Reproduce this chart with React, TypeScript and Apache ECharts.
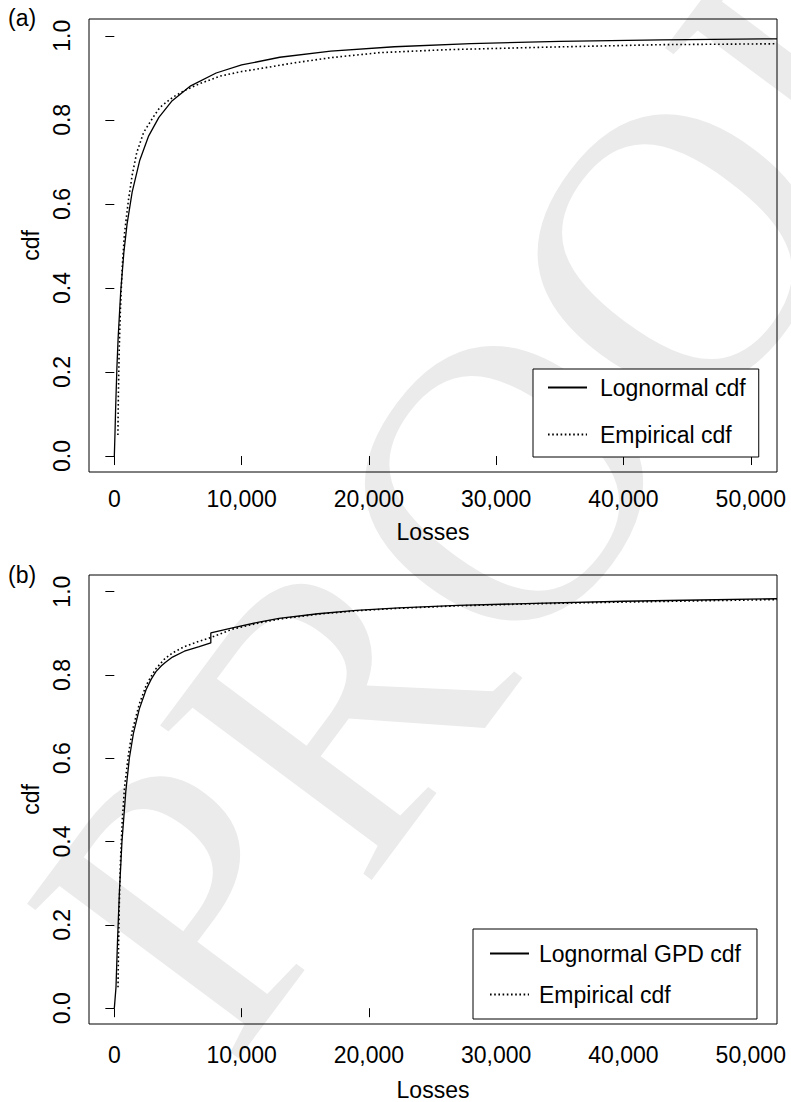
import React, { useEffect, useRef } from "react";
import * as echarts from "echarts";

const FONT = '"Liberation Sans", Arial, Helvetica, sans-serif';

const xTicks = [0, 10000, 20000, 30000, 40000, 50000];
const yTicks = [0, 0.2, 0.4, 0.6, 0.8, 1.0];

// Panel (a)
const lognormalA: [number, number][] = [
  [0, 0], [50, 0.052], [100, 0.111], [200, 0.208], [300, 0.282], [500, 0.391],
  [750, 0.485], [1000, 0.552], [1400, 0.628], [2000, 0.704], [2700, 0.762],
  [3500, 0.806], [4500, 0.844], [6000, 0.881], [8000, 0.9115], [10000, 0.9306],
  [13000, 0.949], [17000, 0.9634], [22000, 0.974], [28000, 0.9814],
  [35000, 0.9866], [43000, 0.9903], [52060, 0.9928],
];
const empiricalA: [number, number][] = [
  [280, 0.05], [320, 0.15], [380, 0.25], [480, 0.35], [620, 0.45], [800, 0.53],
  [1100, 0.607], [1400, 0.668], [1760, 0.722], [2300, 0.77], [3065, 0.807],
  [3590, 0.83], [4600, 0.854], [5600, 0.871], [6700, 0.886], [8300, 0.904],
  [10000, 0.915], [11450, 0.922], [14000, 0.935], [17000, 0.948], [20870, 0.96],
  [26110, 0.967], [33970, 0.973], [43130, 0.979], [51900, 0.981],
];

// Panel (b)
const lognormalGpdB: [number, number][] = [
  [0, 0], [130, 0.05], [260, 0.17], [400, 0.28], [600, 0.4], [900, 0.52],
  [1180, 0.6], [1500, 0.66], [1960, 0.718], [2500, 0.765], [2900, 0.79],
  [3270, 0.808], [3700, 0.822], [4000, 0.83], [4570, 0.843], [5500, 0.857],
  [6670, 0.868], [7580, 0.877], [7580, 0.901], [9280, 0.913], [11370, 0.927],
  [12940, 0.936], [16000, 0.947], [19000, 0.955], [22350, 0.961], [27000, 0.967],
  [33000, 0.972], [40000, 0.977], [46000, 0.98], [52060, 0.983],
];
const empiricalB: [number, number][] = [
  [290, 0.05], [330, 0.15], [390, 0.25], [480, 0.35], [620, 0.45], [800, 0.53],
  [1100, 0.607], [1400, 0.665], [1960, 0.73], [2500, 0.775], [2900, 0.797],
  [3270, 0.815], [3700, 0.83], [4000, 0.84], [4570, 0.853], [5500, 0.868],
  [6670, 0.881], [7580, 0.89], [9280, 0.91], [11370, 0.925], [12940, 0.934],
  [16000, 0.946], [19000, 0.954], [22350, 0.96], [27000, 0.966], [33000, 0.971],
  [40000, 0.975], [46000, 0.978], [52060, 0.981],
];

function xAxisCfg(gridIndex: number, labelMargin: number, nameGap: number) {
  return {
    type: "value",
    gridIndex,
    min: -1990,
    max: 52060,
    name: "Losses",
    nameLocation: "middle",
    nameGap,
    nameTextStyle: { fontFamily: FONT, fontSize: 23, color: "#000" },
    axisLine: { show: false },
    splitLine: { show: false },
    axisTick: {
      show: true,
      inside: false,
      length: 9,
      customValues: xTicks,
      lineStyle: { color: "#000", width: 1 },
    },
    axisLabel: {
      show: true,
      customValues: xTicks,
      margin: labelMargin,
      fontFamily: FONT,
      fontSize: 23,
      color: "#000",
      formatter: (v: number) => v.toLocaleString("en-US"),
    },
  };
}

function yAxisCfg(gridIndex: number) {
  return {
    type: "value",
    gridIndex,
    min: -0.038,
    max: 1.04,
    name: "cdf",
    nameLocation: "middle",
    nameRotate: 90,
    nameGap: 35,
    nameTextStyle: { fontFamily: FONT, fontSize: 23, color: "#000" },
    axisLine: { show: false },
    splitLine: { show: false },
    axisTick: {
      show: true,
      inside: false,
      length: 9,
      customValues: yTicks,
      lineStyle: { color: "#000", width: 1 },
    },
    axisLabel: {
      show: true,
      customValues: yTicks,
      rotate: 90,
      margin: 16,
      fontFamily: FONT,
      fontSize: 23,
      color: "#000",
      formatter: (v: number) => v.toFixed(1),
    },
  };
}

const solidStyle = { color: "#000", width: 1.3, type: "solid" };
const dottedStyle = { color: "#000", width: 1.6, type: [1.6, 2.6] };

function legendCfg(
  names: string[],
  left: number,
  top: number,
  itemGap: number,
  padding: number[],
  textPad: number
) {
  return {
    data: names,
    orient: "vertical",
    left,
    top,
    itemWidth: 39,
    itemHeight: 22,
    itemGap,
    padding,
    borderColor: "#000",
    borderWidth: 1,
    borderRadius: 0,
    backgroundColor: "#fff",
    selectedMode: false,
    itemStyle: { opacity: 0 },
    textStyle: {
      fontFamily: FONT,
      fontSize: 23,
      color: "#000",
      padding: [0, 0, 0, textPad],
    },
  };
}

const lineBase = {
  type: "line",
  symbol: "none",
  z: 3,
  itemStyle: { color: "#000" },
};

export default function App() {
  const ref = useRef<HTMLDivElement>(null);
  useEffect(() => {
    const chart = echarts.init(ref.current!, null, { renderer: "svg" });
    const option = {
      animation: false,
      backgroundColor: "#fff",
      grid: [
        { left: 89, top: 19, width: 688, height: 453, show: true, borderColor: "#000", borderWidth: 1, backgroundColor: "transparent" },
        { left: 89, top: 575, width: 688, height: 453, show: true, borderColor: "#000", borderWidth: 1, backgroundColor: "transparent" },
      ],
      xAxis: [xAxisCfg(0, 15, 48), xAxisCfg(1, 19, 54)],
      yAxis: [yAxisCfg(0), yAxisCfg(1)],
      legend: [
        legendCfg(["Lognormal cdf", "Empirical cdf"], 533, 369, 24, [7, 13, 11, 14], 8),
        legendCfg(["Lognormal GPD cdf", "Empirical cdf"], 473, 929, 18, [13, 16, 13, 16], 5),
      ],
      graphic: [
        {
          type: "text",
          z: -10,
          x: 122,
          y: 989,
          rotation: 0.93,
          silent: true,
          style: {
            text: "PROOF",
            font: '400px "Liberation Serif", "DejaVu Serif", serif',
            fill: "#ebebeb",
            align: "left",
            verticalAlign: "middle",
          },
        },
        {
          type: "text",
          x: 8,
          y: 18,
          style: { text: "(a)", font: `23px ${FONT}`, fill: "#000", align: "left", verticalAlign: "middle" },
        },
        {
          type: "text",
          x: 8,
          y: 575,
          style: { text: "(b)", font: `23px ${FONT}`, fill: "#000", align: "left", verticalAlign: "middle" },
        },
      ],
      series: [
        { ...lineBase, name: "Lognormal cdf", xAxisIndex: 0, yAxisIndex: 0, data: lognormalA, lineStyle: solidStyle },
        { ...lineBase, name: "Empirical cdf", xAxisIndex: 0, yAxisIndex: 0, data: empiricalA, lineStyle: dottedStyle },
        { ...lineBase, name: "Lognormal GPD cdf", xAxisIndex: 1, yAxisIndex: 1, data: lognormalGpdB, lineStyle: solidStyle },
        { ...lineBase, name: "Empirical cdf", xAxisIndex: 1, yAxisIndex: 1, data: empiricalB, lineStyle: dottedStyle },
      ],
    };
    chart.setOption(option as any);
    return () => chart.dispose();
  }, []);
  return (
    <div
      ref={ref}
      style={{ position: "absolute", left: 0, top: 0, width: 791, height: 1102, background: "#fff" }}
    />
  );
}
